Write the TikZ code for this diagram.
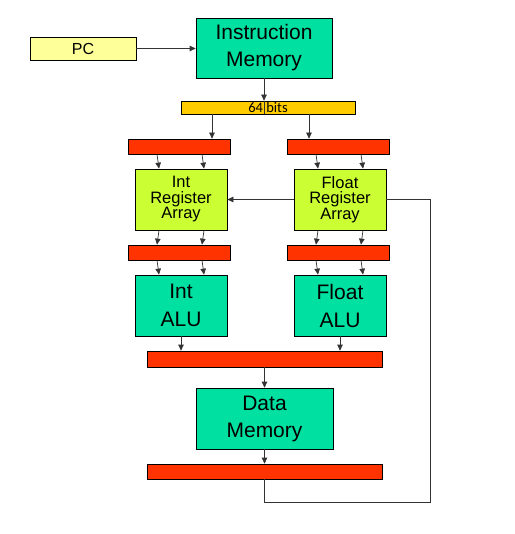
\documentclass[tikz,border=0pt]{standalone}
\usepackage{fontspec}
\setmainfont{Liberation Sans}
\newfontfamily\calfont{Carlito}
\usetikzlibrary{arrows.meta}

\definecolor{pcyellow}{RGB}{255,255,153}
\definecolor{memgreen}{RGB}{0,224,160}
\definecolor{reglime}{RGB}{204,255,51}
\definecolor{latchred}{RGB}{255,51,0}
\definecolor{busgold}{RGB}{255,204,0}

\tikzset{
  unit/.style={draw=black, line width=0.7pt, inner sep=0pt, align=center},
  latch/.style={unit, fill=latchred, minimum width=102pt, minimum height=15pt},
  widelatch/.style={unit, fill=latchred, minimum width=235pt, minimum height=15pt},
  memblock/.style={unit, fill=memgreen, font=\fontsize{21}{27}\selectfont},
  regblock/.style={unit, fill=reglime, minimum width=92pt, minimum height=61pt, font=\fontsize{16.5}{15.5}\selectfont},
  wire/.style={draw=black!80, line width=0.7pt},
  arr/.style={wire, -{Triangle[length=6pt,width=5.5pt]}}
}

\begin{document}
\begin{tikzpicture}[x=1pt, y=-1pt]
        % Page frame
        \useasboundingbox (0,0) rectangle (514,534);

        % Fetch stage
        \node[unit, fill=pcyellow, minimum width=106pt, minimum height=23pt, font=\fontsize{16}{18}\selectfont] (pc) at (83,48.5) {PC};
        \node[memblock, minimum width=136pt, minimum height=60pt] (imem) at (264,48) {Instruction\\Memory};
        \node[unit, fill=busgold, minimum width=174pt, minimum height=13pt, font=\calfont\fontsize{14.5}{14}\selectfont] (bits) at (268,107.5) {64 bits};

        % Register stage
        \node[latch] (intin) at (179,146.5) {};
        \node[latch] (fltin) at (338,146.5) {};
        \node[regblock] (intreg) at (181,199.5) {Int\\Register\\Array};
        \node[regblock] (fltreg) at (340,199.5) {Float\\Register\\Array};

        % Execute stage
        \node[latch] (intout) at (179,252.5) {};
        \node[latch] (fltout) at (338,252.5) {};
        \node[memblock, minimum width=92pt, minimum height=61pt, font=\fontsize{21}{28}\selectfont] (intalu) at (181,305.5) {Int\\ALU};
        \node[memblock, minimum width=92pt, minimum height=61pt, font=\fontsize{21}{28}\selectfont] (fltalu) at (340,305.5) {Float\\ALU};

        % Memory stage
        \node[widelatch, minimum height=16pt] (exbar) at (264.5,359) {};
        \node[memblock, minimum width=137pt, minimum height=61pt] (dmem) at (264.5,418.5) {Data\\Memory};
        \node[widelatch] (wbbar) at (264.5,471.5) {};
        \coordinate (fbcorner) at (430,502);

        % Fetch connections
        \draw[arr] (pc.east) -- (imem.west |- pc.east);
        \draw[arr] (imem.south) -- (imem.south |- bits.north);
        \draw[wire] (imem.south |- bits.north) -- (imem.south |- bits.south);
        \draw[arr] ([xshift=-56pt]bits.south) -- ([xshift=33pt]intin.north);
        \draw[arr] ([xshift=41pt]bits.south) -- ([xshift=-29pt]fltin.north);

        % Into and out of the register arrays
        \foreach \dx in {-22,23} {
          \draw[arr] ([xshift=\dx pt]intin.south) -- ([xshift=\dx pt]intreg.north);
          \draw[arr] ([xshift=\dx pt]fltin.south) -- ([xshift=\dx pt]fltreg.north);
          \draw[arr] ([xshift=\dx pt]intreg.south) -- ([xshift=\dx pt]intout.north);
          \draw[arr] ([xshift=\dx pt]fltreg.south) -- ([xshift=\dx pt]fltout.north);
          \draw[arr] ([xshift=\dx pt]intout.south) -- ([xshift=\dx pt]intalu.north);
          \draw[arr] ([xshift=\dx pt]fltout.south) -- ([xshift=\dx pt]fltalu.north);
        }
        \draw[arr] (fltreg.west) -- (intreg.east);

        % ALUs to data memory
        \draw[arr] (intalu.south) -- (intalu.south |- exbar.north);
        \draw[arr] (fltalu.south) -- (fltalu.south |- exbar.north);
        \draw[arr] (exbar.south) -- (dmem.north);
        \draw[arr] (dmem.south) -- (wbbar.north);

        % Write back loop
        \draw[wire] (wbbar.south) |- (fbcorner) |- (fltreg.east);
    \end{tikzpicture}
\end{document}
